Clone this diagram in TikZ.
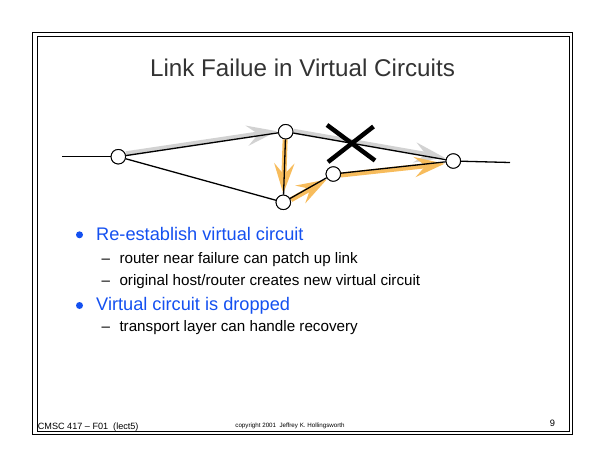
\documentclass[tikz,border=0pt]{standalone}
\usepackage{fontspec}
\setmainfont{Liberation Sans}
\usetikzlibrary{arrows.meta,calc}
\definecolor{ttl}{HTML}{333333}
\definecolor{bblue}{RGB}{20,80,240}
\definecolor{arrgray}{HTML}{D2D2D2}
\definecolor{arrorange}{HTML}{F7BC5C}
\tikzset{
  router/.style={circle,draw=black,fill=white,minimum size=14.5pt,inner sep=0pt,line width=0.9pt},
  link/.style={line width=1.3pt,black},
  grayarr/.style={draw=arrgray,line width=5pt,-{Stealth[length=30pt,width=20pt,inset=11pt]},shorten >=1pt},
  orangearr/.style={draw=arrorange,line width=5pt,-{Stealth[length=30pt,width=20pt,inset=11pt]},shorten >=1pt},
  txt/.style={inner sep=0pt,anchor=base west},
  bdot/.style={circle,fill=bblue,inner sep=0pt,minimum size=7pt},
  frameline/.style={line width=1pt}
}
\begin{document}
\begin{tikzpicture}[x=1pt,y=-1pt]
\path[use as bounding box] (0,0) rectangle (605,467);
% frames
\draw[frameline] (32,32) rectangle (572,434.3);
\draw[frameline] (37,36.3) rectangle (569,431);
% title
\node[inner sep=0pt,anchor=base,text=ttl,font=\fontsize{24.2}{28}\selectfont] (title) at (302.5,76.7) {Link Failue in Virtual Circuits};
% routers
\node[router] (A) at (118.3,156.7) {};
\node[router] (B) at (285.7,131.7) {};
\node[router] (C) at (283.3,202.3) {};
\node[router] (D) at (333.3,174) {};
\node[router] (E) at (453.3,161) {};
\coordinate (L) at (62,156.7);
\coordinate (R) at (510,162.5);
% colored arrows (behind)
\draw[grayarr,transform canvas={yshift=1.8pt}] (A) -- (B);
\draw[grayarr,transform canvas={yshift=1.8pt}] (B) -- (E);
\draw[orangearr,transform canvas={xshift=-0.3pt}] (B) -- (C);
\draw[orangearr,transform canvas={xshift=1pt,yshift=-1.2pt}] (C) -- (D);
\draw[orangearr,transform canvas={yshift=-1.8pt}] (D) -- (E);
% links
\draw[link] (L) -- (A);
\draw[link] (A) -- (B);
\draw[link] (A) -- (C);
\draw[link] (B) -- (C);
\draw[link] (B) -- (E);
\draw[link] (C) -- (D);
\draw[link] (D) -- (E);
\draw[link] (E) -- (R);
% redraw routers on top
\node[router] at (A) {};
\node[router] at (B) {};
\node[router] at (C) {};
\node[router] at (D) {};
\node[router] at (E) {};
% failure cross
\draw[line width=4.5pt] (327,125) -- (375,160.5);
\draw[line width=4.5pt] (373.5,126.5) -- (328,162);
% bullets
\node[bdot] (b1) at (79.5,234.8) {};
\node[txt,text=bblue,font=\fontsize{18.2}{22}\selectfont] (t1) at (96,240) {Re-establish virtual circuit};
\node[txt,font=\fontsize{15.2}{18}\selectfont] (d1) at (101.5,263.3) {–};
\node[txt,font=\fontsize{15.2}{18}\selectfont] (s1) at (119.3,263.3) {router near failure can patch up link};
\node[txt,font=\fontsize{15.2}{18}\selectfont] (d2) at (101.5,285) {–};
\node[txt,font=\fontsize{15.2}{18}\selectfont] (s2) at (119.3,285) {original host/router creates new virtual circuit};
\node[bdot] (b2) at (79.5,305.5) {};
\node[txt,text=bblue,font=\fontsize{18.2}{22}\selectfont] (t2) at (96,310.7) {Virtual circuit is dropped};
\node[txt,font=\fontsize{15.2}{18}\selectfont] (d3) at (101.5,331) {–};
\node[txt,font=\fontsize{15.2}{18}\selectfont] (s3) at (119.3,331) {transport layer can handle recovery};
% footer
\node[txt,font=\fontsize{9.1}{11}\selectfont] (f1) at (37.7,429.3) {CMSC 417 – F01 \ (lect5)};
\node[inner sep=0pt,anchor=base,font=\fontsize{6.2}{7}\selectfont] (f2) at (290,427.7) {copyright 2001 \ Jeffrey K. Hollingsworth};
\node[inner sep=0pt,anchor=base,font=\fontsize{9.3}{11}\selectfont] (f3) at (552.5,426.7) {9};
\end{tikzpicture}
\end{document}
